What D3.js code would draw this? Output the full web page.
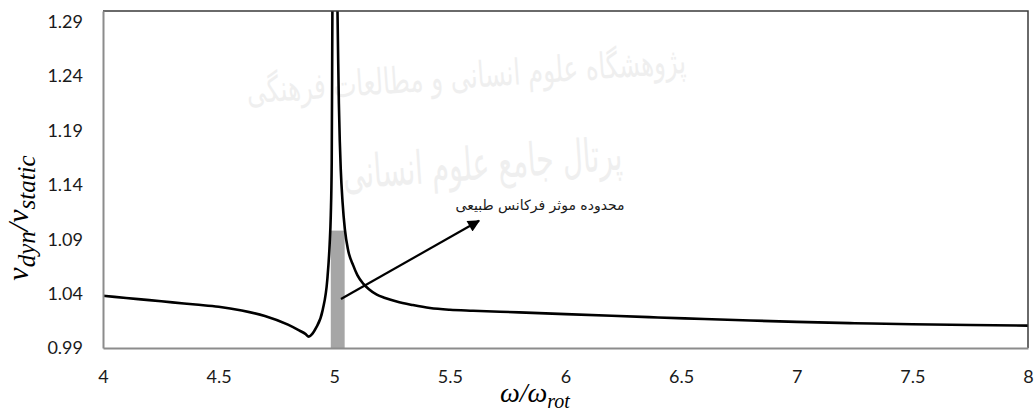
<!DOCTYPE html>
<html>
<head>
<meta charset="utf-8">
<script src="https://cdn.jsdelivr.net/npm/d3@7"></script>
<style>
  body { margin: 0; background: #fff; }
  .chart { width: 1035px; height: 414px; }
  .tick text { font-family: Lato, "Open Sans", sans-serif; font-size: 18px; fill: #1a1a1a; }
  .title { font-family: "Liberation Serif", "DejaVu Serif", serif; font-style: italic; fill: #000; }
</style>
</head>
<body>
<div class="chart"></div>
<script>
// ratio of dynamic to static response against frequency ratio
var omega = [4.0, 4.1, 4.2, 4.3, 4.4, 4.5, 4.6, 4.7, 4.8, 4.85, 4.875, 4.89, 4.905, 4.92, 4.95,
  4.97, 4.98, 4.985, 4.989, 4.992, 5.003, 5.014, 5.017, 5.02, 5.024, 5.028, 5.036, 5.046, 5.06, 5.082,
  5.1, 5.126, 5.15, 5.184, 5.22, 5.27, 5.34, 5.414, 5.5, 5.6, 5.8, 6.0, 6.2, 6.4, 6.6, 6.8, 7.0,
  7.25, 7.5, 7.75, 8.0];
var ratio = [1.038, 1.036, 1.034, 1.032, 1.030, 1.028, 1.0245, 1.0195, 1.0115, 1.006, 1.003, 1.0005, 1.003, 1.008, 1.025,
  1.053, 1.085, 1.112, 1.16, 1.30, 1.55, 1.30, 1.255, 1.215, 1.18, 1.155, 1.124, 1.099, 1.08, 1.066,
  1.057, 1.049, 1.044, 1.039, 1.036, 1.0327, 1.0295, 1.0268, 1.0252, 1.0243, 1.0228, 1.0212, 1.0196, 1.0181, 1.0167, 1.0153, 1.014,
  1.0128, 1.0118, 1.0111, 1.0106];

// effective natural frequency band
var bandRange = [4.985, 5.045];
var bandValue = 1.098;

var xTicks = [4, 4.5, 5, 5.5, 6, 6.5, 7, 7.5, 8];
var yTicks = [0.99, 1.04, 1.09, 1.14, 1.19, 1.24, 1.29];

var noteText = 'محدوده موثر فرکانس طبیعی';
var arrowFrom = [5.029, 1.0351];
var arrowTo = [5.626, 1.107];
var notePos = [5.89, 1.117];

var watermark = ['پژوهشگاه علوم انسانی و مطالعات فرهنگی', 'پرتال جامع علوم انسانی'];

(function draw() {

  var margins = { top: 11, right: 7, bottom: 66, left: 103 };
  var width = 1035;
  var height = 414;

  var x = d3.scaleLinear()
    .domain([4, 8])
    .range([margins.left, width - margins.right]);

  var y = d3.scaleLinear()
    .domain([0.99, 1.30])
    .range([height - margins.bottom, margins.top]);

  var svg = d3.select('.chart').append('svg')
    .attr('width', width)
    .attr('height', height);

  var defs = svg.append('defs');

  defs.append('clipPath')
      .attr('id', 'plot')
    .append('rect')
      .attr('x', x(4))
      .attr('y', y(1.30))
      .attr('width', x(8) - x(4))
      .attr('height', y(0.99) - y(1.30));

  defs.append('marker')
      .attr('id', 'head')
      .attr('viewBox', '0 0 10 10')
      .attr('refX', 9)
      .attr('refY', 5)
      .attr('markerWidth', 7)
      .attr('markerHeight', 5.5)
      .attr('markerUnits', 'strokeWidth')
      .attr('orient', 'auto')
    .append('path')
      .attr('d', 'M0,0L10,5L0,10z')
      .attr('fill', '#000');

  // faint watermark behind the plot
  svg.append('g')
      .attr('font-family', '"DejaVu Sans", sans-serif')
      .attr('fill', '#efefef')
      .attr('text-anchor', 'middle')
    .selectAll('text')
      .data(watermark)
      .enter()
    .append('text')
      .attr('direction', 'rtl')
      .attr('x', function (d, i) { return i ? 480 : 470; })
      .attr('y', function (d, i) { return i ? 180 : 88; })
      .attr('font-size', function (d, i) { return i ? 46 : 36; })
      .attr('textLength', function (d, i) { return i ? 280 : 440; })
      .attr('lengthAdjust', 'spacingAndGlyphs')
      .attr('transform', 'rotate(-4 470 130)')
      .text(function (d) { return d; });

  svg.append('rect')
    .attr('x', x(bandRange[0]))
    .attr('y', y(bandValue))
    .attr('width', x(bandRange[1]) - x(bandRange[0]))
    .attr('height', y(0.99) - y(bandValue))
    .attr('fill', '#a6a6a6');

  var line = d3.line()
    .x(function (d, i) { return x(omega[i]); })
    .y(function (d) { return y(d); })
    .curve(d3.curveMonotoneX);

  svg.append('path')
    .datum(ratio)
    .attr('clip-path', 'url(#plot)')
    .attr('d', line)
    .attr('fill', 'none')
    .attr('stroke', '#000')
    .attr('stroke-width', 2.6);

  // frame: top and right edges
  svg.append('path')
    .attr('d', 'M' + x(4) + ',' + y(1.30) + 'H' + x(8) + 'V' + y(0.99))
    .attr('fill', 'none')
    .attr('stroke', '#3a3a3a')
    .attr('stroke-width', 1.5);

  var xAxis = svg.append('g')
    .attr('transform', 'translate(0,' + y(0.99) + ')')
    .call(d3.axisBottom(x).tickValues(xTicks).tickSize(0).tickPadding(22)
      .tickFormat(function (d) { return String(d); }));

  var yAxis = svg.append('g')
    .attr('transform', 'translate(' + x(4) + ',0)')
    .call(d3.axisLeft(y).tickValues(yTicks).tickSize(0).tickPadding(20)
      .tickFormat(d3.format('.2f')));

  [xAxis, yAxis].forEach(function (axis) {
    axis.select('.domain')
      .attr('stroke', '#8c8c8c')
      .attr('stroke-width', 2);
  });

  // annotation arrow and label
  svg.append('line')
    .attr('x1', x(arrowFrom[0]))
    .attr('y1', y(arrowFrom[1]))
    .attr('x2', x(arrowTo[0]))
    .attr('y2', y(arrowTo[1]))
    .attr('stroke', '#000')
    .attr('stroke-width', 2.2)
    .attr('marker-end', 'url(#head)');

  svg.append('text')
    .attr('x', x(notePos[0]))
    .attr('y', y(notePos[1]))
    .attr('direction', 'rtl')
    .attr('text-anchor', 'middle')
    .attr('font-family', '"DejaVu Sans", sans-serif')
    .attr('font-size', 14)
    .attr('fill', '#1a1a1a')
    .text(noteText);

  // axis titles
  var xTitle = svg.append('text')
    .attr('class', 'title')
    .attr('x', 500)
    .attr('y', 402)
    .attr('font-size', 28);
  xTitle.append('tspan').text('ω/ω');
  xTitle.append('tspan').attr('font-size', 20).attr('dy', 6).text('rot');

  var yTitle = svg.append('text')
    .attr('class', 'title')
    .attr('transform', 'translate(28,' + 218 + ') rotate(-90)')
    .attr('text-anchor', 'middle')
    .attr('font-size', 30);
  yTitle.append('tspan').text('v');
  yTitle.append('tspan').attr('font-size', 25).attr('dy', 7).text('dyn');
  yTitle.append('tspan').attr('dy', -7).text('/v');
  yTitle.append('tspan').attr('font-size', 25).attr('dy', 7).text('static');
})();
</script>
</body>
</html>
